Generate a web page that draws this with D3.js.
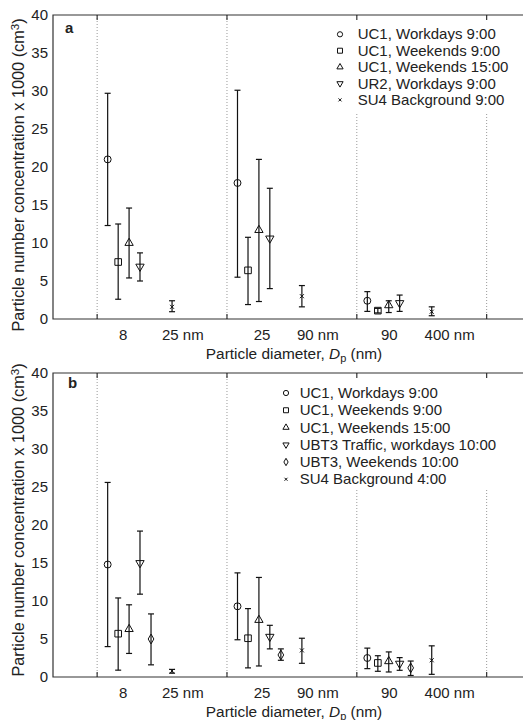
<!DOCTYPE html>
<html>
<head>
<meta charset="utf-8">
<script src="https://cdn.jsdelivr.net/npm/d3@7"></script>
<style>
  body { margin: 0; background: #fff; }
  text { font-family: "Liberation Sans", Arial, sans-serif; fill: #222; }
</style>
</head>
<body>
<div id="chart"></div>
<script>
// size-range groups, one dotted divider at each of these x values
const dividers = [1, 2, 3, 4];
const tickLabels = ["8", "25 nm", "25", "90 nm", "90", "400 nm"];
const tickLabelX = [1.2, 1.66, 2.27, 2.7, 3.25, 3.715];

// panel a
const seriesA = ["UC1, Workdays 9:00", "UC1, Weekends 9:00", "UC1, Weekends 15:00", "UR2, Workdays 9:00", "SU4 Background 9:00"];
const shapesA = ["circle", "square", "triangle", "down", "x"];
const xOffA = [0.081, 0.162, 0.246, 0.33, 0.577];
const meanA = [[21.0, 17.9, 2.4], [7.5, 6.4, 1.1], [10.0, 11.7, 1.8], [6.9, 10.6, 2.1], [1.6, 3.0, 0.96]];
const lowA = [[12.3, 5.5, 1.0], [2.6, 1.9, 0.8], [5.4, 2.3, 0.85], [5.0, 4.0, 1.0], [0.96, 1.6, 0.43]];
const highA = [[29.7, 30.1, 3.6], [12.5, 10.75, 1.4], [14.6, 21.0, 2.4], [8.7, 17.2, 3.15], [2.4, 4.4, 1.6]];

// panel b
const seriesB = ["UC1, Workdays 9:00", "UC1, Weekends 9:00", "UC1, Weekends 15:00", "UBT3 Traffic, workdays 10:00", "UBT3, Weekends 10:00", "SU4 Background 4:00"];
const shapesB = ["circle", "square", "triangle", "down", "diamond", "x"];
const xOffB = [0.081, 0.162, 0.246, 0.33, 0.415, 0.577];
const meanB = [[14.8, 9.3, 2.5], [5.7, 5.1, 1.85], [6.3, 7.5, 2.07], [15.0, 5.3, 1.76], [5.0, 2.9, 1.2], [0.8, 3.5, 2.2]];
const lowB = [[4.0, 4.9, 1.1], [0.9, 1.2, 0.75], [3.1, 1.45, 0.66], [10.9, 3.7, 0.88], [1.6, 2.2, 0.2], [0.5, 1.8, 0.35]];
const highB = [[25.6, 13.7, 3.8], [10.4, 9.0, 2.8], [9.5, 13.1, 3.3], [19.2, 6.8, 2.55], [8.3, 3.7, 2.1], [1.0, 5.1, 4.1]];

const yTicks = d3.range(0, 41, 5);

const W = 523, H = 720;
const svg = d3.select("#chart").append("svg")
    .attr("width", W)
    .attr("height", H);

const x = d3.scaleLinear().domain([0.66, 4.28]).range([53, 523]);

// marker path for a given shape, centred on 0,0
function marker(shape, s) {
    if (shape === "circle") return d3.symbol(d3.symbolCircle, 38 * s * s)();
    if (shape === "square") return d3.symbol(d3.symbolSquare, 44 * s * s)();
    if (shape === "triangle") return d3.symbol(d3.symbolTriangle, 30 * s * s)();
    if (shape === "down") return d3.symbol(d3.symbolTriangle, 30 * s * s)();
    if (shape === "diamond") return d3.symbol(d3.symbolDiamond, 28 * s * s)();
    const r = 2 * s;
    return `M${-r},${-r}L${r},${r}M${-r},${r}L${r},${-r}`;
}

function drawPanel(cfg) {
    const { top, bottom, label, labelPos, yTitleMid, series, shapes, xOff, mean, low, high, legend } = cfg;
    const y = d3.scaleLinear().domain([0, 40]).range([bottom, top]);
    const g = svg.append("g");

    // dotted dividers
    g.selectAll(".grid")
        .data(dividers)
        .enter()
        .append("line")
        .attr("x1", d => x(d))
        .attr("x2", d => x(d))
        .attr("y1", top)
        .attr("y2", bottom)
        .attr("stroke", "#999")
        .attr("stroke-width", 1)
        .attr("stroke-dasharray", "1,2");

    // legend background hides the dividers behind it
    g.append("rect")
        .attr("x", legend.x - 12)
        .attr("y", top + 1)
        .attr("width", W - legend.x + 12)
        .attr("height", legend.boxBottom - top - 1)
        .attr("fill", "#fff");

    // frame: left, bottom, top (right edge falls outside the picture)
    g.append("path")
        .attr("d", `M${x(4.28) + 2},${top}H${x.range()[0]}V${bottom}H${x(4.28) + 2}`)
        .attr("fill", "none")
        .attr("stroke", "#333")
        .attr("stroke-width", 1.2);

    // x ticks at dividers, pointing inward
    dividers.forEach(d => {
        g.append("line").attr("x1", x(d)).attr("x2", x(d)).attr("y1", bottom).attr("y2", bottom - 5)
            .attr("stroke", "#333").attr("stroke-width", 1.2);
        g.append("line").attr("x1", x(d)).attr("x2", x(d)).attr("y1", top).attr("y2", top + 5)
            .attr("stroke", "#333").attr("stroke-width", 1.2);
    });

    // y tick labels
    g.selectAll(".ylab")
        .data(yTicks)
        .enter()
        .append("text")
        .attr("x", 48)
        .attr("y", d => y(d) + 5)
        .attr("text-anchor", "end")
        .style("font-size", "15px")
        .text(d => d);

    // x tick labels
    g.selectAll(".xlab")
        .data(tickLabels)
        .enter()
        .append("text")
        .attr("x", (d, i) => x(tickLabelX[i]))
        .attr("y", bottom + 21)
        .attr("text-anchor", "middle")
        .style("font-size", "15px")
        .text(d => d);

    // x axis title
    const xt = g.append("text")
        .attr("x", 294)
        .attr("y", bottom + 40)
        .attr("text-anchor", "middle")
        .style("font-size", "15.4px");
    xt.append("tspan").text("Particle diameter, ");
    xt.append("tspan").style("font-style", "italic").text("D");
    xt.append("tspan").attr("dy", 2.5).style("font-size", "11px").text("p");
    xt.append("tspan").attr("dy", -2.5).text(" (nm)");

    // y axis title
    const yt = g.append("text")
        .attr("transform", `translate(24, ${yTitleMid}) rotate(-90)`)
        .attr("text-anchor", "middle")
        .style("font-size", "16.3px");
    yt.append("tspan").text("Particle number concentration x 1000 (cm");
    yt.append("tspan").attr("dy", -5).style("font-size", "11.5px").text("3");
    yt.append("tspan").attr("dy", 5).text(")");

    // panel letter
    g.append("text")
        .attr("x", labelPos[0])
        .attr("y", labelPos[1])
        .style("font-size", "15px")
        .style("font-weight", "bold")
        .text(label);

    // error bars and markers
    series.forEach((s, si) => {
        [0, 1, 2].forEach(gi => {
            const cx = x(dividers[gi] + xOff[si]);
            const bar = g.append("g").attr("stroke", "#111").attr("stroke-width", 1.2).attr("fill", "none");
            bar.append("line").attr("x1", cx).attr("x2", cx).attr("y1", y(low[si][gi])).attr("y2", y(high[si][gi]));
            bar.append("line").attr("x1", cx - 3).attr("x2", cx + 3).attr("y1", y(low[si][gi])).attr("y2", y(low[si][gi]));
            bar.append("line").attr("x1", cx - 3).attr("x2", cx + 3).attr("y1", y(high[si][gi])).attr("y2", y(high[si][gi]));
            bar.append("path")
                .attr("d", marker(shapes[si], 1))
                .attr("transform", `translate(${cx}, ${y(mean[si][gi])})${shapes[si] === "down" ? " rotate(180)" : ""}`)
                .attr("stroke-width", 1);
        });
    });

    // legend
    const lg = g.selectAll(".legend")
        .data(series)
        .enter()
        .append("g")
        .attr("transform", (d, i) => `translate(${legend.x}, ${legend.y + i * legend.step})`);

    lg.append("path")
        .attr("d", (d, i) => marker(shapes[i], 0.75))
        .attr("transform", (d, i) => shapes[i] === "down" ? "rotate(180)" : null)
        .attr("fill", "none")
        .attr("stroke", "#111")
        .attr("stroke-width", 1);

    lg.append("text")
        .attr("x", legend.gap)
        .attr("y", 5)
        .style("font-size", "15px")
        .text(d => d);
}

drawPanel({
    top: 15, bottom: 319, label: "a", labelPos: [65, 32.5], yTitleMid: 175,
    series: seriesA, shapes: shapesA, xOff: xOffA, mean: meanA, low: lowA, high: highA,
    legend: { x: 340, y: 34.3, step: 16.4, gap: 17.7, boxBottom: 114 }
});

drawPanel({
    top: 373, bottom: 677, label: "b", labelPos: [68, 387.5], yTitleMid: 520,
    series: seriesB, shapes: shapesB, xOff: xOffB, mean: meanB, low: lowB, high: highB,
    legend: { x: 286, y: 393, step: 17.25, gap: 13.7, boxBottom: 488 }
});
</script>
</body>
</html>
